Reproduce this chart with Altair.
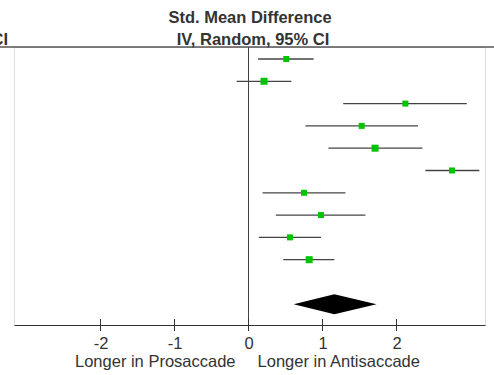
import altair as alt
import pandas as pd

# Study rows (top to bottom): estimate and 95% CI (Std. Mean Difference)
rows = [1, 2, 3, 4, 5, 6, 7, 8, 9, 10]
est = [0.51, 0.21, 2.12, 1.53, 1.71, 2.75, 0.75, 0.98, 0.56, 0.82]
lo = [0.13, -0.16, 1.28, 0.77, 1.08, 2.39, 0.19, 0.37, 0.14, 0.47]
hi = [0.88, 0.58, 2.95, 2.29, 2.35, 3.12, 1.31, 1.58, 0.98, 1.16]
weight = [36, 49, 36, 36, 49, 36, 36, 36, 36, 49]

# Pooled estimate (diamond)
pooled_row = 12
pooled_lo, pooled_est, pooled_hi = 0.61, 1.16, 1.73

tick_values = [-2, -1, 0, 1, 2]
side_labels = ["Longer in Prosaccade", "Longer in Antisaccade"]
side_pos = [-1.26, 1.22]

FONT = "Liberation Sans"
INK = "#333333"

W, H = 471, 278
xdom = [-3.169, 3.196]
ydom = [0.462, 12.93]

studies = pd.DataFrame({"row": rows, "est": est, "lo": lo, "hi": hi, "w": weight})
diamond = pd.DataFrame({
    "x": [pooled_lo, pooled_est, pooled_hi],
    "y": [pooled_row, pooled_row - 0.45, pooled_row],
    "y2": [pooled_row, pooled_row + 0.45, pooled_row],
})
ticks = pd.DataFrame({"t": tick_values})
sides = pd.DataFrame({"x": side_pos, "label": side_labels})

xs = alt.Scale(domain=xdom, nice=False, zero=False)
ys = alt.Scale(domain=ydom, nice=False, zero=False, reverse=True)

xaxis = alt.Axis(values=tick_values, ticks=False, grid=False, domain=True,
                 domainColor=INK, domainWidth=1, labelFont=FONT, labelFontSize=16.5,
                 labelColor=INK, labelPadding=10, title=None,
                 labelExpr="'' + datum.value")

base = alt.Chart(studies)

ci = base.mark_rule(color="#444444", strokeWidth=1.3).encode(
    x=alt.X("lo:Q", scale=xs, axis=xaxis),
    x2="hi:Q",
    y=alt.Y("row:Q", scale=ys, axis=None),
)

squares = base.mark_square(color="#00c400", opacity=1, filled=True).encode(
    x=alt.X("est:Q", scale=xs),
    y=alt.Y("row:Q", scale=ys),
    size=alt.Size("w:Q", scale=None, legend=None),
)

dia = alt.Chart(diamond).mark_area(color="black", opacity=1).encode(
    x=alt.X("x:Q", scale=xs),
    y=alt.Y("y:Q", scale=ys),
    y2="y2:Q",
)

zero = alt.Chart(pd.DataFrame({"z": [0]})).mark_rule(color="#444444", strokeWidth=1).encode(
    x=alt.X("z:Q", scale=xs), y=alt.value(0), y2=alt.value(H)
)

topline = alt.Chart(pd.DataFrame({"a": [0]})).mark_rule(color="#555555", strokeWidth=1.5).encode(
    x=alt.value(-14), x2=alt.value(480), y=alt.value(0)
)

tickmarks = alt.Chart(ticks).mark_rule(color=INK, strokeWidth=1).encode(
    x=alt.X("t:Q", scale=xs), y=alt.value(H - 6), y2=alt.value(H + 6)
)

sidetext = alt.Chart(sides).mark_text(font=FONT, fontSize=16.5, color=INK, baseline="middle").encode(
    x=alt.X("x:Q", scale=xs), y=alt.value(H + 37), text="label:N"
)

head1 = alt.Chart(pd.DataFrame({"t": ["Std. Mean Difference"]})).mark_text(
    font=FONT, fontSize=16.5, fontWeight="bold", color=INK, baseline="middle"
).encode(x=alt.value(236), y=alt.value(-29), text="t:N")

head2 = alt.Chart(pd.DataFrame({"t": ["IV, Random, 95% CI"]})).mark_text(
    font=FONT, fontSize=16.5, fontWeight="bold", color=INK, baseline="middle"
).encode(x=alt.value(239), y=alt.value(-7), text="t:N")

head_left = alt.Chart(pd.DataFrame({"t": ["IV, Random, 95% CI"]})).mark_text(
    font=FONT, fontSize=16.5, fontWeight="bold", color=INK, baseline="middle", align="right"
).encode(x=alt.value(-6), y=alt.value(-7), text="t:N")

chart = alt.layer(
    topline, zero, ci, dia, squares, tickmarks, sidetext, head1, head2, head_left
).properties(
    width=W, height=H,
    autosize=alt.AutoSizeParams(type="none"),
    padding={"left": 14, "top": 47, "right": 9, "bottom": 50},
).configure_view(stroke=None).configure(background="white")

chart.save("out.html", embed_options={"renderer": "svg", "actions": False})
